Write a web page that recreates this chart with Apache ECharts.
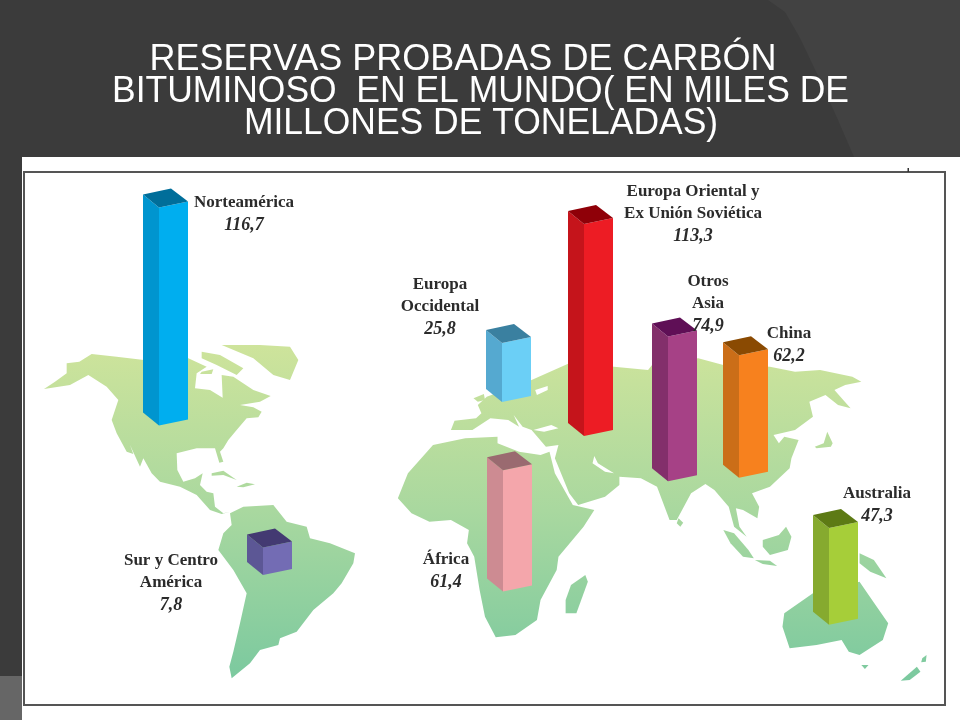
<!DOCTYPE html>
<html>
<head>
<meta charset="utf-8">
<style>html,body{margin:0;padding:0;background:#fff}#chart{width:960px;height:720px}</style>
</head>
<body>
<div id="chart"></div>
<script src="https://cdn.jsdelivr.net/npm/echarts@6/dist/echarts.min.js"></script>
<script type="text/javascript">
var titleLines = ['RESERVAS PROBADAS DE CARBÓN', 'BITUMINOSO  EN EL MUNDO( EN MILES DE', 'MILLONES DE TONELADAS)'];
var categories = ['Norteamérica', 'Europa Oriental y\nEx Unión Soviética', 'Europa\nOccidental', 'Otros\nAsia', 'China', 'Australia', 'África', 'Sur y Centro\nAmérica'];
var reserves = [116.7, 113.3, 25.8, 74.9, 62.2, 47.3, 61.4, 7.8];

// where each bar stands on the map, and where its label goes
var barX = [143, 568, 486, 652, 723, 813, 487, 247];
var barBase = [176, 170, 189.4, 144, 146, 62, 81, 90.4];
var labelX = [244, 693, 440, 708, 789, 877, 446, 171];
var labelTop = [192, 181, 274, 271, 323, 483, 549, 550];
var frontColors = ['#00aeef', '#ed1c24', '#6bcff6', '#a64186', '#f7811e', '#a6ce39', '#f4a6ab', '#736cb4'];
var sideColors = ['#0095cf', '#c5141b', '#55a9d0', '#832f6b', '#cb6e18', '#86aa2f', '#cd8b92', '#5c5795'];
var topColors = ['#006e9a', '#8f0008', '#3a80a0', '#5f0f56', '#8a4a02', '#5d7a14', '#9a6a70', '#433a72'];
var lift = 8; // the drawn bars do not start from zero

// land outlines
function west(p) { return p.map(function (q) { return [q[0] / 3 + 20, q[1] / 3 + 330]; }); }
function east(p) { return p.map(function (q) { return [q[0] / 2.79 + 390, q[1] / 3 + 330]; }); }

var land = [
    west([[72,177],[105,155],[140,130],[140,100],[178,95],[215,72],[290,80],[372,90],[505,85],[560,110],[530,130],[525,175],[570,180],[608,203],[605,135],[640,140],[700,180],[752,198],[720,215],[660,225],[700,232],[725,245],[715,262],[680,265],[650,300],[625,330],[610,355],[600,365],[610,395],[598,398],[585,355],[530,355],[470,370],[472,420],[490,455],[525,445],[548,430],[540,465],[560,485],[580,490],[585,530],[610,550],[630,545],[605,552],[570,540],[530,495],[480,470],[420,455],[395,430],[370,385],[360,410],[330,345],[340,372],[320,365],[290,310],[275,270],[295,210],[260,170],[205,135],[150,165]]),
    west([[545,65],[600,75],[670,115],[650,135],[590,105],[545,85]]),
    west([[545,125],[580,118],[575,132],[540,132]]),
    west([[605,45],[720,45],[810,50],[835,90],[810,150],[760,135],[700,85]]),
    west([[575,430],[610,422],[650,450],[610,435],[575,437]]),
    west([[650,470],[680,458],[705,463],[670,472]]),
    west([[630,550],[670,530],[760,525],[800,575],[860,590],[870,625],[930,640],[1005,670],[1000,700],[965,760],[940,790],[880,840],[830,905],[780,925],[775,945],[720,960],[690,1000],[635,1045],[628,1010],[640,965],[660,880],[680,790],[640,720],[595,660],[610,610],[635,585]]),
    east([[170,300],[180,272],[240,265],[255,250],[245,225],[270,200],[395,150],[500,100],[625,110],[720,120],[735,100],[860,85],[930,105],[1060,110],[1130,125],[1200,120],[1290,140],[1315,155],[1270,165],[1240,180],[1285,235],[1250,225],[1215,195],[1170,215],[1180,260],[1130,300],[1070,315],[1085,340],[1100,320],[1140,330],[1120,385],[1115,415],[1060,470],[1010,490],[1030,530],[1025,565],[985,540],[965,535],[975,590],[995,620],[960,590],[945,530],[905,480],[880,462],[840,490],[800,570],[780,570],[745,470],[700,445],[640,440],[640,465],[600,500],[525,525],[500,490],[460,385],[470,345],[435,350],[395,300],[370,290],[345,255],[360,290],[330,270],[280,265],[230,300]]),
    east([[22,505],[50,430],[120,345],[210,325],[300,320],[300,340],[360,365],[420,375],[445,365],[460,430],[510,525],[570,540],[540,590],[470,680],[465,720],[420,810],[410,870],[350,915],[295,922],[265,860],[250,780],[235,680],[215,640],[220,600],[170,570],[110,575],[60,550]]),
    east([[545,735],[552,755],[520,850],[490,850],[490,810],[505,765]]),
    east([[805,565],[818,578],[810,590],[800,580]]),
    east([[930,600],[960,610],[1000,660],[1015,685],[985,680],[950,640]]),
    east([[1018,690],[1060,692],[1080,708],[1040,702]]),
    east([[1040,630],[1085,615],[1105,590],[1120,620],[1110,660],[1060,675],[1040,650]]),
    east([[1185,350],[1210,340],[1220,305],[1235,340],[1230,350],[1190,355]]),
    east([[1310,670],[1350,690],[1385,745],[1340,725],[1310,700]]),
    east([[1100,850],[1180,790],[1310,755],[1345,810],[1390,880],[1375,930],[1310,975],[1280,965],[1260,930],[1190,945],[1115,955],[1095,890]]),
    east([[1425,1052],[1470,1010],[1480,1025],[1450,1050]]),
    east([[1485,985],[1497,975],[1495,995],[1482,997]]),
    east([[1315,1005],[1335,1005],[1325,1017]]),
    east([[233,205],[262,192],[265,210],[245,215]])
];
var seas = [
    east([[405,180],[440,168],[440,180],[410,195]]),
    east([[570,378],[580,400],[625,430],[600,425],[565,400]]),
    east([[400,300],[450,285],[470,295],[430,305]])
];

var landFill = new echarts.graphic.LinearGradient(0, 340, 0, 680, [
    { offset: 0, color: '#cfe49b' },
    { offset: 0.5, color: '#a9d89f' },
    { offset: 1, color: '#7bc99f' }
], true);

var elements = [
    { type: 'rect', z: 0, shape: { x: 0, y: 0, width: 960, height: 720 }, style: { fill: '#3b3b3b' } },
    { type: 'polygon', z: 0, shape: { points: [[768, 0], [960, 0], [960, 157], [854, 157], [838, 120], [820, 80], [800, 38], [785, 12]] }, style: { fill: '#424242' } },
    { type: 'rect', z: 0, shape: { x: 0, y: 676, width: 22, height: 44 }, style: { fill: '#666666' } },
    { type: 'rect', z: 0, shape: { x: 22, y: 157, width: 938, height: 563 }, style: { fill: '#ffffff' } },
    { type: 'rect', z: 1, shape: { x: 24, y: 172, width: 921, height: 533 }, style: { fill: '#ffffff', stroke: '#555555', lineWidth: 2 } },
    { type: 'rect', z: 1, shape: { x: 907.5, y: 168, width: 1.5, height: 4 }, style: { fill: '#333333' } }
];
land.forEach(function (points) {
    elements.push({ type: 'polygon', z: 2, shape: { points: points }, style: { fill: landFill } });
});
seas.forEach(function (points) {
    elements.push({ type: 'polygon', z: 2, shape: { points: points }, style: { fill: '#ffffff' } });
});
var titleCenters = [463, 480.5, 481];
var titleTops = [42, 74, 106];
var titleScales = [1.0, 0.985, 0.985];
titleLines.forEach(function (line, i) {
    elements.push({
        type: 'text', z: 3, x: titleCenters[i], y: titleTops[i], scaleX: titleScales[i],
        style: { text: line, fill: '#ffffff', font: '36px "Liberation Sans"', align: 'center' }
    });
});

var seriesData = reserves.map(function (v, i) { return [barX[i], barBase[i], v, i]; });

function renderBar(params, api) {
    var i = api.value(3);
    var x = api.value(0);
    var base = api.value(1);
    var bottom = api.coord([x, base]);
    var top = api.coord([x, base + api.value(2) + lift]);
    var l = bottom[0], yb = bottom[1], yt = top[1];
    var face = function (points, fill) {
        return { type: 'polygon', shape: { points: points }, style: { fill: fill } };
    };
    var amount = String(reserves[i]).replace('.', ',');
    var names = categories[i].split('\n').map(function (n) { return '{n|' + n + '}'; }).join('\n');
    return {
        type: 'group',
        children: [
            face([[l, yt], [l + 16, yt + 13], [l + 16, yb + 13], [l, yb]], sideColors[i]),
            face([[l + 16, yt + 13], [l + 45, yt + 7], [l + 45, yb + 7], [l + 16, yb + 13]], frontColors[i]),
            face([[l, yt], [l + 28, yt - 6], [l + 45, yt + 7], [l + 16, yt + 13]], topColors[i]),
            {
                type: 'text',
                x: labelX[i],
                y: labelTop[i],
                style: {
                    text: names + '\n{v|' + amount + '}',
                    align: 'center',
                    verticalAlign: 'top',
                    rich: {
                        n: { font: 'bold 17px "Liberation Serif"', fill: '#2b2b2b', lineHeight: 22 },
                        v: { font: 'italic bold 18px "Liberation Serif"', fill: '#2b2b2b', lineHeight: 22 }
                    }
                }
            }
        ]
    };
}

var myChart = echarts.init(document.getElementById('chart'));
var option = {
    animation: false,
    graphic: { elements: elements },
    grid: { left: 0, right: 0, top: 0, bottom: 0 },
    xAxis: { type: 'value', min: 0, max: 960, show: false },
    yAxis: { type: 'value', min: 0, max: 412, show: false },
    series: [
        {
            type: 'custom',
            z: 10,
            silent: true,
            clip: false,
            renderItem: renderBar,
            data: seriesData
        }
    ]
};
myChart.setOption(option);
</script>
</body>
</html>
